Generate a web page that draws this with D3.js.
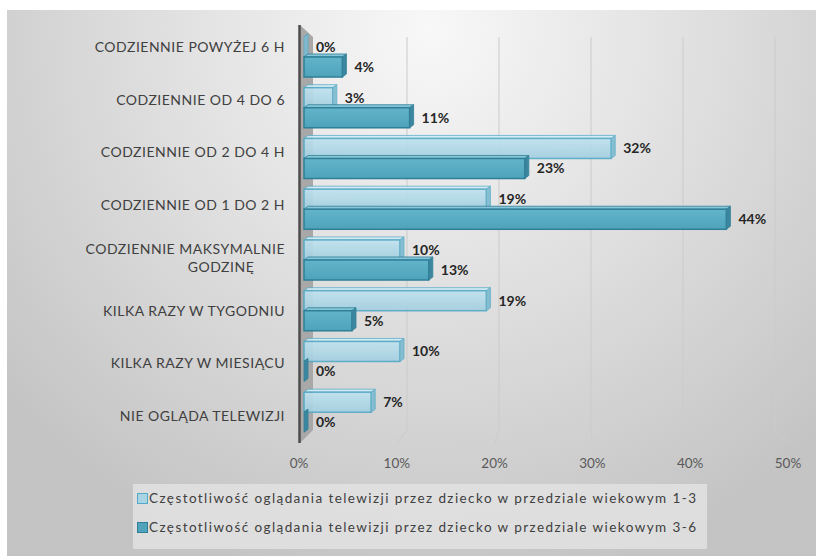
<!DOCTYPE html>
<html>
<head>
<meta charset="utf-8">
<script src="https://cdn.jsdelivr.net/npm/d3@7"></script>
<style>
  html, body { margin: 0; padding: 0; background: #ffffff; }
  svg { display: block; }
</style>
</head>
<body>
<svg id="chart" width="816" height="557"></svg>
<script>
// Viewing-frequency categories, top to bottom
const categories = [
  "CODZIENNIE POWYŻEJ 6 H",
  "CODZIENNIE OD 4 DO 6",
  "CODZIENNIE OD 2 DO 4 H",
  "CODZIENNIE OD 1 DO 2 H",
  "CODZIENNIE MAKSYMALNIE GODZINĘ",
  "KILKA RAZY W TYGODNIU",
  "KILKA RAZY W MIESIĄCU",
  "NIE OGLĄDA TELEWIZJI"
];
// Share of children (%) per age group
const age1to3 = [0, 3, 32, 19, 10, 19, 10, 7];
const age3to6 = [4, 11, 23, 44, 13, 5, 0, 0];
const seriesNames = [
  "Częstotliwość oglądania telewizji przez dziecko w przedziale wiekowym 1-3",
  "Częstotliwość oglądania telewizji przez dziecko w przedziale wiekowym 3-6"
];
const tickValues = [0, 10, 20, 30, 40, 50];

const svg = d3.select("#chart");
const defs = svg.append("defs");

// Chart area background: soft radial shading
const bg = defs.append("radialGradient").attr("id", "bgGrad")
  .attr("gradientUnits", "userSpaceOnUse")
  .attr("cx", 430).attr("cy", 30).attr("r", 560);
bg.append("stop").attr("offset", 0).attr("stop-color", "#f8f8f8");
bg.append("stop").attr("offset", 0.55).attr("stop-color", "#dcdcdc");
bg.append("stop").attr("offset", 1).attr("stop-color", "#c4c4c4");

function barGrad(id, c1, c2) {
  const g = defs.append("linearGradient").attr("id", id)
    .attr("x1", 0).attr("y1", 0).attr("x2", 0).attr("y2", 1);
  g.append("stop").attr("offset", 0).attr("stop-color", c1);
  g.append("stop").attr("offset", 1).attr("stop-color", c2);
}
barGrad("lightGrad", "#bfe2ef", "#a3cfe0");
barGrad("darkGrad", "#62b4ca", "#4ea3bb");

svg.append("rect").attr("x", 7).attr("y", 10).attr("width", 809).attr("height", 546)
  .attr("fill", "url(#bgGrad)");

// Scales: bars sit mid-depth, gridlines on the back wall, tick labels at the front
const xBar = d3.scaleLinear().domain([0, 50]).range([304, 784]);
const xBack = d3.scaleLinear().domain([0, 50]).range([315, 775]);
const xFront = d3.scaleLinear().domain([0, 50]).range([299, 788]);

const yBar = d3.scaleBand().domain(categories).range([31.6, 437.6])
  .paddingInner(0.21).paddingOuter(0.105);
const ySub = d3.scaleBand().domain([0, 1]).range([0, yBar.bandwidth()]);
const yLabel = d3.scaleBand().domain(categories).range([47 - 26.35, 416 + 26.35]);

const backTop = 37, backBottom = 430, frontBottom = 443;

// Gridlines with floor perspective segment
const grid = svg.append("g");
tickValues.filter(t => t > 0).forEach(t => {
  grid.append("path")
    .attr("d", `M${xBack(t)},${backTop}V${backBottom}L${xFront(t)},${frontBottom}`)
    .attr("fill", "none")
    .attr("stroke", "#cbcbcb")
    .attr("stroke-width", 1);
});

// Side wall
svg.append("path")
  .attr("d", `M300,25L313,${backTop}V${backBottom}L300,${frontBottom}Z`)
  .attr("fill", "#a8a8a8");
svg.append("line").attr("x1", 299.5).attr("x2", 299.5).attr("y1", 25).attr("y2", frontBottom)
  .attr("stroke", "#4d4d4d").attr("stroke-width", 2.5);

// Tick labels
svg.append("g").selectAll("text").data(tickValues).join("text")
  .attr("x", d => xFront(d)).attr("y", 468)
  .attr("text-anchor", "middle")
  .attr("font-family", "Lato, 'Open Sans', sans-serif")
  .attr("font-size", 13.5).attr("fill", "#595959")
  .text(d => d + "%");

// Category labels
const catG = svg.append("g")
  .attr("font-family", "Lato, 'Open Sans', sans-serif")
  .attr("font-size", 14).attr("letter-spacing", 0.5).attr("fill", "#404040");
categories.forEach(c => {
  const cy = yLabel(c) + yLabel.bandwidth() / 2;
  if (c === "CODZIENNIE MAKSYMALNIE GODZINĘ") {
    catG.append("text").attr("x", 285).attr("y", cy - 9 + 5).attr("text-anchor", "end")
      .text("CODZIENNIE MAKSYMALNIE");
    catG.append("text").attr("x", 221).attr("y", cy + 9 + 5).attr("text-anchor", "middle")
      .text("GODZINĘ");
  } else {
    catG.append("text").attr("x", 285).attr("y", cy + 5).attr("text-anchor", "end").text(c);
  }
});

// 3D bars
const depthX = 4, depthY = -3;
const styles = [
  { fill: "url(#lightGrad)", stroke: "#55a9c6", side: "#7fbcd0", top: "#d2ecf5", opacity: 0.92 },
  { fill: "url(#darkGrad)", stroke: "#307f98", side: "#3c879f", top: "#86c6d8", opacity: 1 }
];
const barsG = svg.append("g");
const rows = categories.map((c, i) => ({ c, vals: [age1to3[i], age3to6[i]] }));

rows.forEach(r => {
  [0, 1].forEach(s => {
    const v = r.vals[s];
    const st = styles[s];
    const y0 = yBar(r.c) + ySub(s);
    const h = ySub.bandwidth();
    const x0 = xBar(0), x1 = xBar(v);
    const g = barsG.append("g").attr("opacity", st.opacity);
    // top face
    g.append("path")
      .attr("d", `M${x0},${y0}L${x0 + depthX},${y0 + depthY}L${x1 + depthX},${y0 + depthY}L${x1},${y0}Z`)
      .attr("fill", st.top).attr("stroke", st.stroke).attr("stroke-width", 0.8);
    // front face
    g.append("rect").attr("x", x0).attr("y", y0).attr("width", x1 - x0).attr("height", h)
      .attr("fill", st.fill).attr("stroke", st.stroke).attr("stroke-width", 1.5);
    // right side face
    g.append("path")
      .attr("d", `M${x1},${y0}L${x1 + depthX},${y0 + depthY}L${x1 + depthX},${y0 + h + depthY}L${x1},${y0 + h}Z`)
      .attr("fill", st.side).attr("stroke", st.stroke).attr("stroke-width", 0.8);
    // value label
    barsG.append("text")
      .attr("x", x1 + 12).attr("y", y0 + h / 2 + 5)
      .attr("font-family", "Lato, 'Open Sans', sans-serif")
      .attr("font-size", 14).attr("font-weight", "bold").attr("fill", "#262626")
      .text(v + "%");
  });
});

// Legend
const lg = svg.append("g");
lg.append("rect").attr("x", 133).attr("y", 484).attr("width", 574).attr("height", 65)
  .attr("fill", "#e2e2e2").attr("opacity", 0.85);
seriesNames.forEach((name, i) => {
  const y = 493 + i * 29;
  lg.append("rect").attr("x", 137.5).attr("y", y + 0.5).attr("width", 10).attr("height", 10)
    .attr("fill", i === 0 ? "#a9d4e4" : "#4fa3bb")
    .attr("stroke", i === 0 ? "#55a9c6" : "#2f7d96");
  lg.append("text").attr("x", 149).attr("y", y + 10)
    .attr("font-family", "Lato, 'Open Sans', sans-serif")
    .attr("font-size", 13.5).attr("fill", "#404040")
    .attr("textLength", 547).attr("lengthAdjust", "spacing")
    .text(name);
});
</script>
</body>
</html>
